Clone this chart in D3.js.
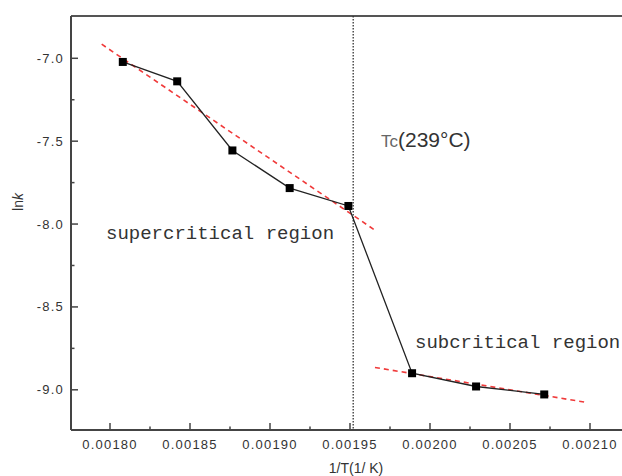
<!DOCTYPE html>
<meta charset="utf-8">
<style>
body { margin: 0; background: #fff; }
.axis text { font-family: "Liberation Sans", Arial, sans-serif; font-size: 13px; fill: #333; letter-spacing: 1.2px; }
.axis path, .axis line { stroke: #444; }
.note { font-family: "Liberation Mono", "DejaVu Sans Mono", monospace; font-size: 19px; fill: #333; }
</style>
<svg width="622" height="476"></svg>
<script src="https://cdnjs.cloudflare.com/ajax/libs/d3/7.8.5/d3.min.js"></script>
<script>
// measured points: 1/T vs ln k
var invT = [0.001808, 0.001842, 0.0018765, 0.0019123, 0.001949, 0.0019888, 0.0020288, 0.0020714];
var lnk  = [-7.022, -7.139, -7.556, -7.783, -7.891, -8.900, -8.980, -9.028];

// red dashed fits (end points)
var fitSuperX = [0.0017948, 0.0019656];
var fitSuperY = [-6.915, -8.037];
var fitSubX = [0.0019656, 0.0020983];
var fitSubY = [-8.865, -9.077];

// critical temperature line
var tcX = 0.001952;

var xTicks = [0.00180, 0.00185, 0.00190, 0.00195, 0.00200, 0.00205, 0.00210];
var xMinor = [0.001825, 0.001875, 0.001925, 0.001975, 0.002025, 0.002075];
var yTicks = [-7.0, -7.5, -8.0, -8.5, -9.0];
var yMinor = [-7.25, -7.75, -8.25, -8.75];

var svg = d3.select("svg");
var plotLeft = 71, plotTop = 16, plotBottom = 430, plotRight = 622;

var x = d3.scaleLinear().domain([0.0018, 0.0021]).range([110, 590]);
var y = d3.scaleLinear().domain([-7, -9]).range([58.3, 389.8]);

// frame: top line and the two axes
svg.append("line")
    .attr("x1", plotLeft).attr("x2", plotRight).attr("y1", plotTop).attr("y2", plotTop)
    .attr("stroke", "#555").attr("stroke-width", 2);

var fmtX = d3.format(".5f");
var fmtY = function(d) { return d3.format(".1f")(d).replace("\u2212", "-"); };

var gx = svg.append("g").attr("class", "axis")
    .attr("transform", "translate(0," + plotBottom + ")");
gx.append("line").attr("x1", plotLeft).attr("x2", plotRight)
    .attr("stroke-width", 2);
gx.selectAll(".maj").data(xTicks).enter().append("line")
    .attr("x1", x).attr("x2", x).attr("y1", 0).attr("y2", -7)
    .attr("stroke-width", 1.5);
gx.selectAll(".min").data(xMinor).enter().append("line")
    .attr("x1", x).attr("x2", x).attr("y1", 0).attr("y2", -3.5)
    .attr("stroke-width", 1.5);
gx.selectAll("text").data(xTicks).enter().append("text")
    .attr("x", x).attr("y", 19)
    .attr("text-anchor", "middle")
    .text(fmtX);

var gy = svg.append("g").attr("class", "axis")
    .attr("transform", "translate(" + plotLeft + ",0)");
gy.append("line").attr("y1", plotTop).attr("y2", plotBottom)
    .attr("stroke-width", 2);
gy.selectAll(".maj").data(yTicks).enter().append("line")
    .attr("y1", y).attr("y2", y).attr("x1", 0).attr("x2", 7)
    .attr("stroke-width", 1.5);
gy.selectAll(".min").data(yMinor).enter().append("line")
    .attr("y1", y).attr("y2", y).attr("x1", 0).attr("x2", 3.5)
    .attr("stroke-width", 1.5);
gy.selectAll("text").data(yTicks).enter().append("text")
    .attr("x", -7).attr("y", function(d) { return y(d) + 4.5; })
    .attr("text-anchor", "end")
    .text(fmtY);

// axis titles
svg.append("text")
    .attr("transform", "translate(23,202) rotate(-90)")
    .attr("text-anchor", "middle")
    .style("font-family", "Liberation Sans, Arial, sans-serif")
    .style("font-size", "14px").style("fill", "#333")
    .html('ln<tspan font-style="italic">k</tspan>');

svg.append("text")
    .attr("x", 356).attr("y", 473)
    .attr("text-anchor", "middle")
    .style("font-family", "Liberation Sans, Arial, sans-serif")
    .style("font-size", "14px").style("fill", "#333")
    .text("1/T(1/ K)");

// Tc line
svg.append("line")
    .attr("x1", x(tcX)).attr("x2", x(tcX))
    .attr("y1", plotTop).attr("y2", plotBottom)
    .attr("stroke", "#333").attr("stroke-width", 1.3)
    .attr("stroke-dasharray", "1.5,1.5");

// fits
var fitLine = d3.line()
    .x(function(d) { return x(d[0]); })
    .y(function(d) { return y(d[1]); });

[[fitSuperX, fitSuperY], [fitSubX, fitSubY]].forEach(function(f) {
  svg.append("path")
      .datum(d3.zip(f[0], f[1]))
      .attr("d", fitLine)
      .attr("fill", "none")
      .attr("stroke", "#f03a3a")
      .attr("stroke-width", 1.6)
      .attr("stroke-dasharray", "5,4");
});

// data line and markers
var pts = d3.zip(invT, lnk);
svg.append("path")
    .datum(pts)
    .attr("d", fitLine)
    .attr("fill", "none")
    .attr("stroke", "#222")
    .attr("stroke-width", 1.3);

svg.selectAll(".pt").data(pts).enter().append("rect")
    .attr("x", function(d) { return x(d[0]) - 4; })
    .attr("y", function(d) { return y(d[1]) - 4; })
    .attr("width", 8).attr("height", 8)
    .attr("fill", "#000");

// annotations
svg.append("text").attr("class", "note")
    .attr("x", 106).attr("y", 239)
    .text("supercritical region");
svg.append("text").attr("class", "note")
    .attr("x", 415).attr("y", 348)
    .text("subcritical region");

var tc = svg.append("text")
    .attr("x", 381).attr("y", 147)
    .style("font-family", "Liberation Sans, Arial, sans-serif")
    .style("fill", "#333");
tc.append("tspan").style("font-size", "17px").style("fill", "#666").text("Tc");
tc.append("tspan").style("font-size", "21px").text("(239\u00b0C)");
</script>
